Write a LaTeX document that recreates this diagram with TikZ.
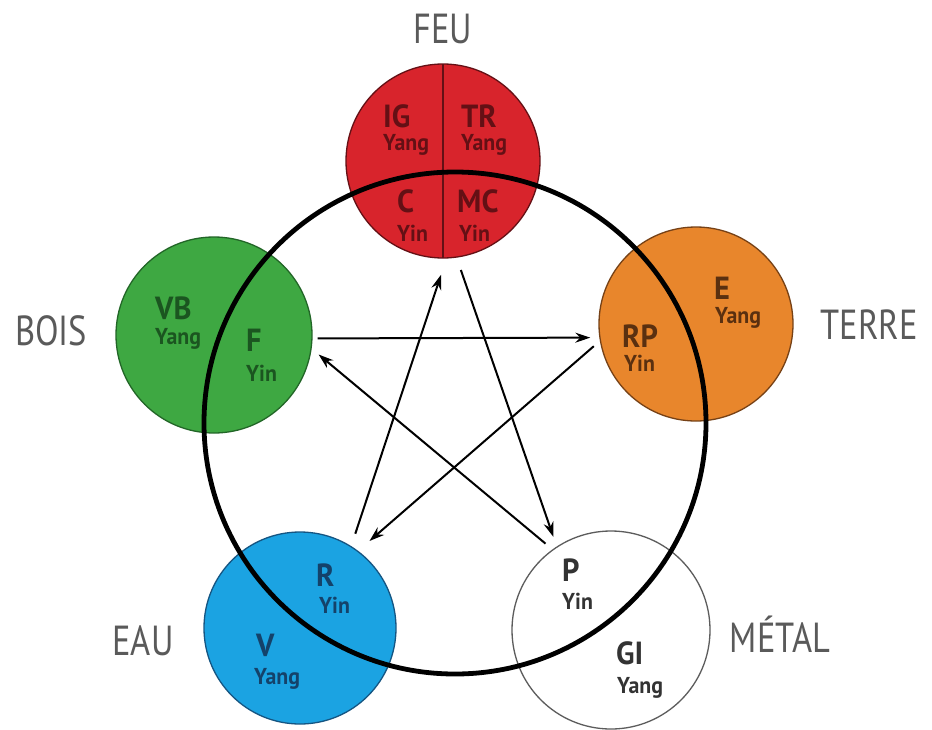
\documentclass[tikz,border=0pt]{standalone}
\usepackage{fontspec}
\setmainfont{PT Sans}
\newfontfamily\condfont[FakeStretch=0.82]{PT Sans}
\newfontfamily\labfont[FakeStretch=0.95]{PT Sans}
\usetikzlibrary{arrows.meta}
\definecolor{firefill}{HTML}{D8242C}
\definecolor{firedark}{HTML}{641015}
\definecolor{woodfill}{HTML}{3EA842}
\definecolor{wooddark}{HTML}{1B5520}
\definecolor{earthfill}{HTML}{E8862C}
\definecolor{earthdark}{HTML}{5A3010}
\definecolor{waterfill}{HTML}{1BA3E2}
\definecolor{waterdark}{HTML}{14426A}
\definecolor{metaldark}{HTML}{333333}
\definecolor{labelgray}{HTML}{5A5A5A}
\tikzset{
  elem/.style={circle, inner sep=0pt, line width=1.3pt},
  ab/.style={anchor=base west, inner sep=0pt, font=\labfont\bfseries\fontsize{32}{32}\selectfont},
  yy/.style={anchor=base west, inner sep=0pt, font=\labfont\bfseries\fontsize{23}{23}\selectfont},
  title/.style={anchor=base, inner sep=0pt, text=labelgray, font=\condfont\fontsize{42}{42}\selectfont},
  arr/.style={line width=2pt, -{Stealth[length=15pt,width=10pt]}},
  bigring/.style={line width=4.8pt, black}
}
\begin{document}
\begin{tikzpicture}[x=1pt,y=-1pt]
\useasboundingbox (0,0) rectangle (932,729);
\fill[white] (0,0) rectangle (932,729);

% element circles
\node[elem, fill=firefill, draw=firedark, minimum size=194pt] (feu) at (443,161) {};
\draw[firedark, line width=1.5pt] (443,64) -- (443,258);
\node[elem, fill=woodfill, draw=wooddark!80!woodfill, minimum size=196pt] (bois) at (214,335) {};
\node[elem, fill=earthfill, draw=earthdark!80!earthfill, minimum size=194pt] (terre) at (696,324) {};
\node[elem, fill=waterfill, draw=waterdark!80!waterfill, minimum size=192pt] (eau) at (300,628) {};
\node[elem, fill=white, draw=metaldark!80, minimum size=198pt] (metal) at (611,630) {};

% big ring
\node[circle, draw, bigring, minimum size=502pt, inner sep=0pt] (ring) at (455,423) {};

% titles
\node[title] (tfeu) at (443,43) {FEU};
\node[title] (tbois) at (51,345) {BOIS};
\node[title] (tterre) at (869,339) {TERRE};
\node[title] (teau) at (143,655) {EAU};
\node[title] (tmetal) at (780,652) {MÉTAL};

% fire labels
\node[ab, text=firedark] (ig) at (383,127) {IG};
\node[yy, text=firedark] (igy) at (383,150) {Yang};
\node[ab, text=firedark] (tr) at (461,127) {TR};
\node[yy, text=firedark] (try) at (461,150) {Yang};
\node[ab, text=firedark] (c) at (397,212) {C};
\node[yy, text=firedark] (cy) at (397,241) {Yin};
\node[ab, text=firedark] (mc) at (457,212) {MC};
\node[yy, text=firedark] (mcy) at (459,241) {Yin};

% wood labels
\node[ab, text=wooddark] (vb) at (155,319) {VB};
\node[yy, text=wooddark] (vby) at (155,344) {Yang};
\node[ab, text=wooddark] (f) at (246,351) {F};
\node[yy, text=wooddark] (fy) at (246,381) {Yin};

% earth labels
\node[ab, text=earthdark] (e) at (714,299) {E};
\node[yy, text=earthdark] (ey) at (715,323) {Yang};
\node[ab, text=earthdark] (rp) at (622,347) {RP};
\node[yy, text=earthdark] (rpy) at (624,371) {Yin};

% water labels
\node[ab, text=waterdark] (r) at (316,586) {R};
\node[yy, text=waterdark] (ry) at (319,613) {Yin};
\node[ab, text=waterdark] (v) at (256,656) {V};
\node[yy, text=waterdark] (vy) at (254,684) {Yang};

% metal labels
\node[ab, text=metaldark] (p) at (562,581) {P};
\node[yy, text=metaldark] (py) at (562,609) {Yin};
\node[ab, text=metaldark] (gi) at (616,664) {GI};
\node[yy, text=metaldark] (giy) at (617,693) {Yang};

% control cycle arrows
\draw[arr, shorten <=5pt, shorten >=9pt] (bois.-2) -- (terre.188);
\draw[arr, shorten <=8pt, shorten >=15pt] (terre.190) -- (eau.53);
\draw[arr, shorten <=13pt, shorten >=17pt] (eau.58) -- (feu.-88);
\draw[arr, shorten <=13pt, shorten >=10pt] (feu.-82) -- (metal.123);
\draw[arr, shorten <=9pt, shorten >=9pt] (metal.126) -- (bois.-8);
\end{tikzpicture}
\end{document}
